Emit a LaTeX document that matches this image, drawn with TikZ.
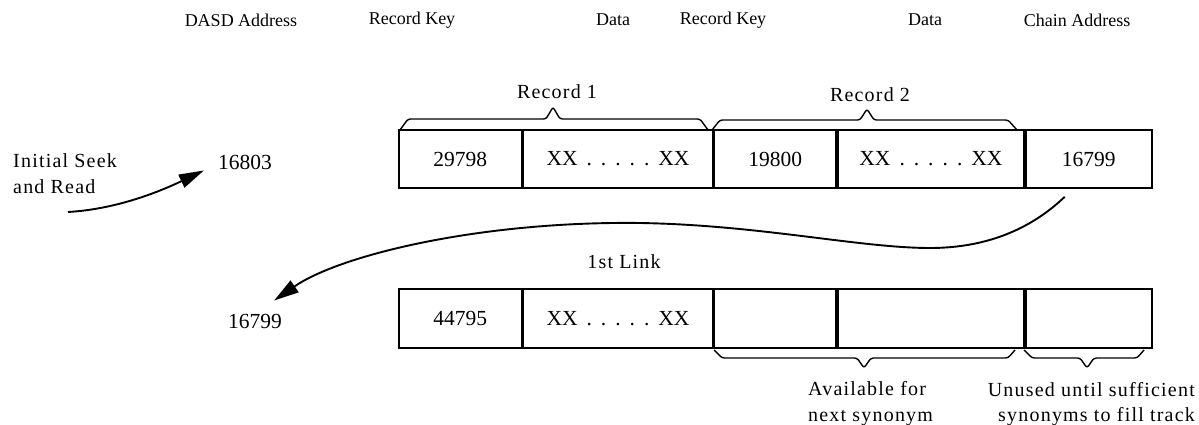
\documentclass[tikz,border=0pt]{standalone}
\usepackage{fontspec}
\setmainfont{Liberation Serif}
\newfontfamily\widefont[LetterSpace=6]{Liberation Serif}
\usetikzlibrary{arrows.meta,calc}

\newcommand{\xxrow}{XX\hspace{9pt}.\hspace{9pt}.\hspace{9pt}.\hspace{9pt}.\hspace{9pt}.\hspace{9pt}XX}

\begin{document}
\begin{tikzpicture}[x=1pt,y=1pt,
  cell/.style={draw, line width=1.7pt, minimum height=58pt, inner sep=0pt,
               anchor=west, font=\fontsize{21.5}{25}\selectfont},
  head/.style={inner sep=0pt, font=\fontsize{18}{22}\selectfont},
  lbl/.style={inner sep=0pt, font=\widefont\fontsize{20}{24}\selectfont},
  num/.style={inner sep=0pt, font=\fontsize{21.5}{25}\selectfont},
  brace/.style={line width=1.4pt, rounded corners=2.5pt},
  link/.style={line width=1.9pt, -{Triangle[length=25pt,width=14pt]}}]

\useasboundingbox (0,0) rectangle (1199,425);

% column headings
\node[head] (hdasd) at (241,405) {DASD Address};
\node[head] (hkey1) at (412,405) {Record Key};
\node[head] (hdat1) at (613,405) {Data};
\node[head] (hkey2) at (723,405) {Record Key};
\node[head] (hdat2) at (925,405) {Data};
\node[head] (hchain) at (1077,405) {Chain Address};

% home track: two records and the chain address
\node[cell, minimum width=123pt] (k1) at (398,266) {29798};
\node[cell, minimum width=189pt] (d1) at (k1.east) {\xxrow};
\node[cell, minimum width=122pt] (k2) at (d1.east) {19800};
\node[cell, minimum width=186pt] (d2) at (k2.east) {\xxrow};
\node[cell, minimum width=126pt] (c1) at (d2.east) {16799};

% record braces
\draw[brace] (400,295) -- (408,306) -- (546,306) -- (553,318) -- (560,306) -- (700,306) -- (708,295);
\draw[brace] (712,295) -- (720,305) -- (860,305) -- (867,316) -- (874,305) -- (1008,305) -- (1017,295);
\node[lbl] (r1) at (557,333) {Record 1};
\node[lbl] (r2) at (870,330) {Record 2};

% overflow track: first link
\node[cell, minimum width=123pt, minimum height=59pt] (lk) at (398,106.5) {44795};
\node[cell, minimum width=189pt, minimum height=59pt] (ld) at (lk.east) {\xxrow};
\node[cell, minimum width=122pt, minimum height=59pt] (e1) at (ld.east) {};
\node[cell, minimum width=186pt, minimum height=59pt] (e2) at (e1.east) {};
\node[cell, minimum width=126pt, minimum height=59pt] (e3) at (e2.east) {};
\node[lbl] (link1) at (624,163) {1st Link};

% free-space braces
\draw[brace] (714,75) -- (722,67) -- (857,67) -- (864,57) -- (871,67) -- (1008,67) -- (1015,75);
\draw[brace] (1024,75) -- (1032,67) -- (1080,67) -- (1087,57) -- (1094,67) -- (1137,67) -- (1144,75);
\node[lbl, anchor=base west] (av1) at (808,29) {Available for};
\node[lbl, anchor=base west] (av2) at (808,3) {next synonym};
\node[lbl, anchor=base east] (un1) at (1195,28) {Unused until sufficient};
\node[lbl, anchor=base east] (un2) at (1195,3) {synonyms to fill track};

% addresses and the seek
\node[lbl, anchor=base west] (seek1) at (13,257) {Initial Seek};
\node[lbl, anchor=base west] (seek2) at (13,231) {and Read};
\node[num] (a1) at (245,263) {16803};
\node[num] (a2) at (255,104) {16799};

\coordinate (s1) at (68,213);
\draw[link] (s1) .. controls (120,216) and (165,236) .. ([shift={(-14pt,-1pt)}]a1.south west);
\draw[link] ([shift={(-24pt,-8pt)}]c1.south)
  .. controls (1030,195) and (985,177) .. (930,177)
  .. controls (860,177) and (760,200) .. (640,202)
  .. controls (480,204) and (340,170) .. ([shift={(-8pt,13pt)}]a2.north east);
\end{tikzpicture}
\end{document}
